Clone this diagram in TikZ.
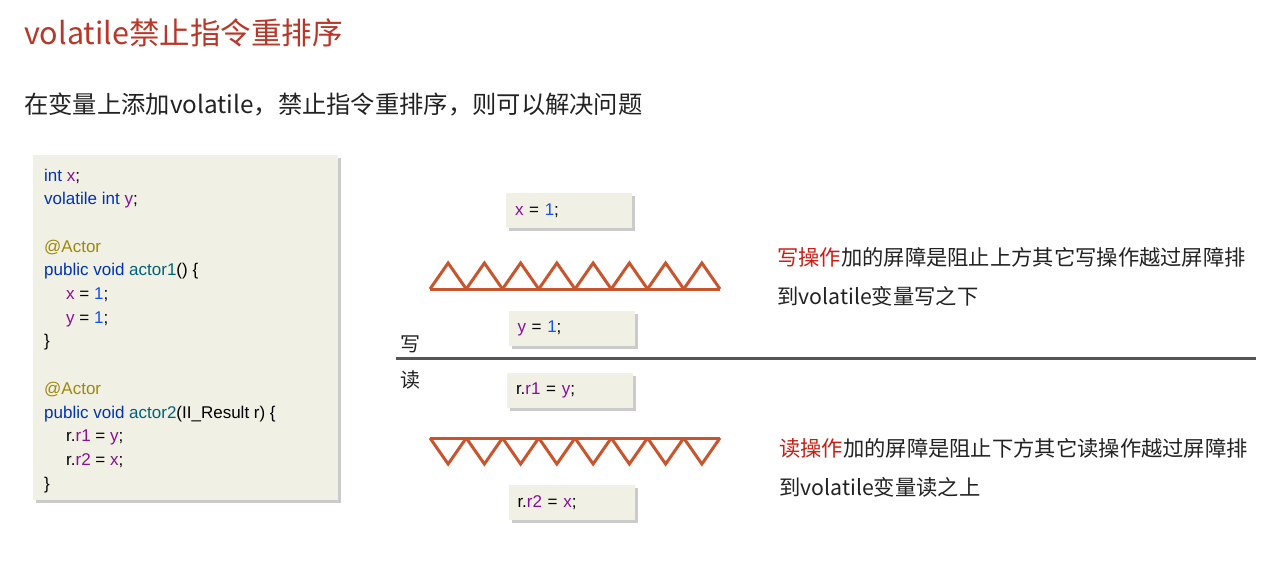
\documentclass[tikz,border=0pt]{standalone}
\usepackage{fontspec}
\setmainfont{Noto Sans CJK SC}
\newfontfamily\codefont{Liberation Sans}
\usetikzlibrary{shadows}

\definecolor{titlered}{RGB}{183,55,40}
\definecolor{opred}{RGB}{200,30,20}
\definecolor{codebg}{RGB}{240,240,228}
\definecolor{barrierred}{RGB}{200,85,45}
\definecolor{divgray}{RGB}{85,85,85}
\definecolor{kwblue}{RGB}{0,51,179}
\definecolor{varpurple}{RGB}{135,16,148}
\definecolor{numblue}{RGB}{23,80,235}
\definecolor{annogold}{RGB}{158,136,13}
\definecolor{fnteal}{RGB}{0,98,122}
\definecolor{txt}{RGB}{34,34,34}

\newcommand{\ckw}[1]{\textcolor{kwblue}{#1}}
\newcommand{\cvar}[1]{\textcolor{varpurple}{#1}}
\newcommand{\cnum}[1]{\textcolor{numblue}{#1}}
\newcommand{\canno}[1]{\textcolor{annogold}{#1}}
\newcommand{\cfn}[1]{\textcolor{fnteal}{#1}}

\tikzset{
  codebox/.style={fill=codebg, inner sep=0, anchor=north west,
    drop shadow={shadow xshift=3pt, shadow yshift=-3pt, fill=black!40, opacity=.5}},
  codetext/.style={anchor=north west, inner sep=0, align=left, text=black,
    font=\codefont\fontsize{17}{23.7}\selectfont},
  stmt/.style={codebox, anchor=center, minimum width=126pt, minimum height=35pt,
    text width=108pt, align=left, inner xsep=9pt, text=black,
    font=\codefont\fontsize{17}{20}\selectfont},
  barrier/.style={draw=barrierred, line width=3pt, line join=miter},
  sidelabel/.style={anchor=west, inner sep=0, text=txt, font=\fontsize{21.3}{26}\selectfont},
}

\begin{document}
\begin{tikzpicture}[x=1pt, y=-1pt]
  \useasboundingbox[fill=white] (0,0) rectangle (1280,582);

  % Heading and subtitle
  \node[anchor=west, inner sep=0, text=titlered, font=\fontsize{30.5}{36}\selectfont]
    (title) at (24,33) {volatile禁止指令重排序};
  \node[anchor=west, inner sep=0, text=txt, font=\fontsize{24.3}{30}\selectfont]
    (sub) at (24,104) {在变量上添加volatile，禁止指令重排序，则可以解决问题};

  % Code listing
  \node[codebox, minimum width=305pt, minimum height=345pt] (codebg) at (33,155) {};
  \node[codetext] (code) at (44,168.5) {%
    \ckw{int} \cvar{x};\\
    \ckw{volatile int} \cvar{y};\\
    \strut\\
    \canno{@Actor}\\
    \ckw{public void} \cfn{actor1}() \{\\
    \hspace*{22pt}\cvar{x} = \cnum{1};\\
    \hspace*{22pt}\cvar{y} = \cnum{1};\\
    \}\\
    \strut\\
    \canno{@Actor}\\
    \ckw{public void} \cfn{actor2}(II\_Result r) \{\\
    \hspace*{22pt}r.\cvar{r1} = \cvar{y};\\
    \hspace*{22pt}r.\cvar{r2} = \cvar{x};\\
    \}};

  % Statements
  \node[stmt] (wx) at (569,210.5) {\cvar{x} = \cnum{1};};
  \node[stmt] (wy) at (571.5,328.5) {\cvar{y} = \cnum{1};};
  \node[stmt] (rr1) at (570,390.5) {r.\cvar{r1} = \cvar{y};};
  \node[stmt] (rr2) at (571.5,502.5) {r.\cvar{r2} = \cvar{x};};

  % Write barrier (teeth up)
  \draw[barrier] (430,289) -- (720,289);
  \foreach \i in {0,...,7}
    \draw[barrier] (430+\i*36.25,289) -- ++(18.125,-26) -- ++(18.125,26);

  % Read barrier (teeth down)
  \draw[barrier] (430,438) -- (720,438);
  \foreach \i in {0,...,7}
    \draw[barrier] (430+\i*36.25,438) -- ++(18.125,26) -- ++(18.125,-26);

  % Divider between write and read
  \draw[divgray, line width=3pt] (396,358) -- (1256,358);
  \node[anchor=center, inner sep=0, text=txt, font=\fontsize{20}{24}\selectfont] (wlabel) at (410,344) {写};
  \node[anchor=center, inner sep=0, text=txt, font=\fontsize{20}{24}\selectfont] (rlabel) at (410,380) {读};

  % Explanations
  \node[sidelabel] (wtext1) at (777,257) {\textcolor{opred}{写操作}加的屏障是阻止上方其它写操作越过屏障排};
  \node[sidelabel] (wtext2) at (777,296) {到volatile变量写之下};
  \node[sidelabel] (rtext1) at (779,448) {\textcolor{opred}{读操作}加的屏障是阻止下方其它读操作越过屏障排};
  \node[sidelabel] (rtext2) at (779,487) {到volatile变量读之上};
\end{tikzpicture}
\end{document}
